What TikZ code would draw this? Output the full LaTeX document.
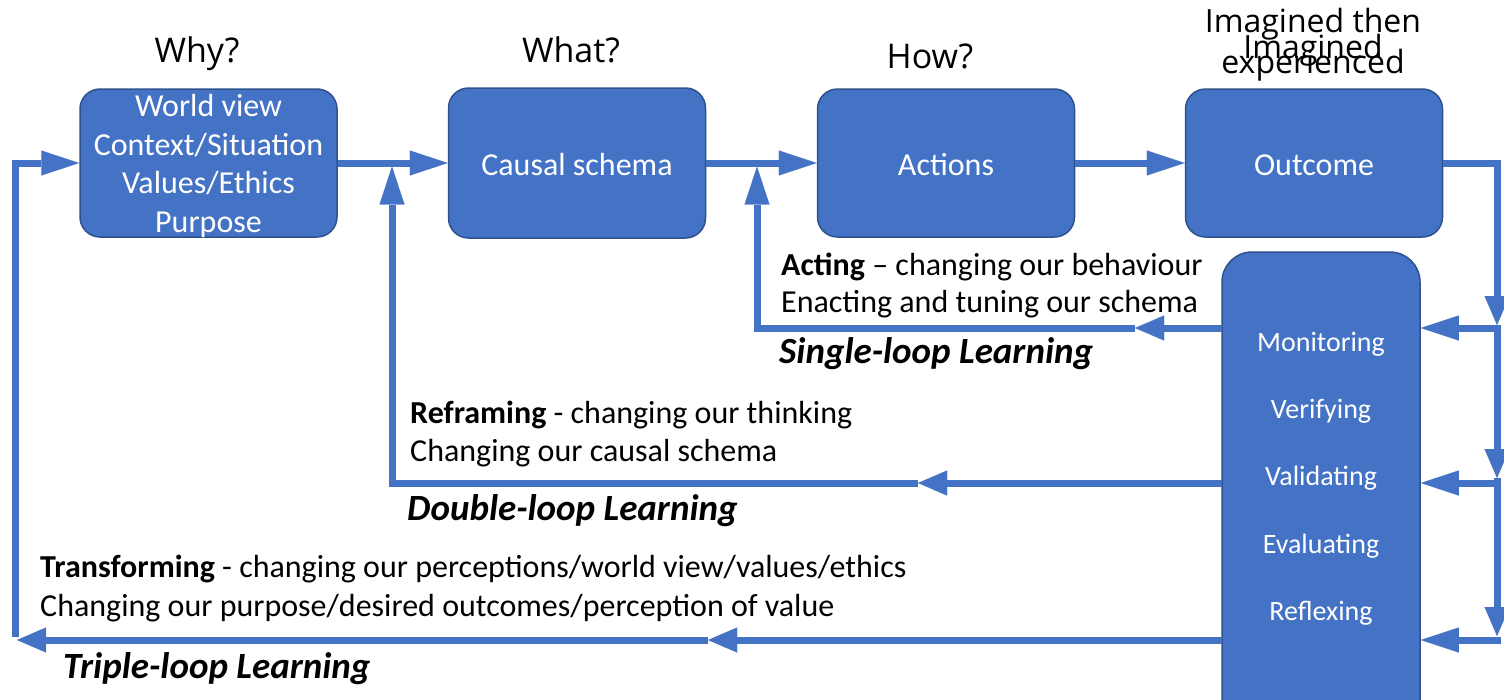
\documentclass[tikz,border=0pt]{standalone}
\usepackage{fontspec}
\setmainfont{Carlito}
\newfontfamily\labfont{Open Sans}
\usetikzlibrary{arrows.meta}
\definecolor{boxblue}{HTML}{4472C4}
\definecolor{boxedge}{HTML}{2F528F}
\newcommand{\bodyfs}{\fontsize{32pt}{38.5pt}\selectfont}
\newcommand{\loopfs}{\fontsize{37pt}{44pt}\selectfont}
\newcommand{\monfs}{\fontsize{28pt}{33pt}\selectfont}
\newcommand{\topfs}{\fontsize{34pt}{40pt}\selectfont\labfont}
\newcommand{\imgfs}{\fontsize{32pt}{38pt}\selectfont\labfont}
\tikzset{
  box/.style={draw=boxedge, fill=boxblue, rounded corners=20pt, line width=1.5pt,
    inner sep=0pt, minimum width=257pt, minimum height=148pt},
  boxtxt/.style={text=white, font=\bodyfs, align=center, inner sep=0pt},
  conn/.style={draw=boxblue, line width=7pt, line join=miter},
  tipL/.style={-{Triangle[length=38pt,width=25pt,line width=0.01pt]}},
  tipS/.style={-{Triangle[length=29pt,width=25pt,line width=0.01pt]}},
  txt/.style={font=\bodyfs, anchor=west, inner sep=0pt},
  loop/.style={font=\loopfs\bfseries\itshape, anchor=west, inner sep=0pt},
  mon/.style={font=\monfs, text=white, inner sep=0pt},
  top/.style={font=\topfs, anchor=base, inner sep=0pt},
  img/.style={font=\imgfs, anchor=base, inner sep=0pt}
}
\begin{document}
\begin{tikzpicture}[x=1pt,y=-1pt]
\useasboundingbox (0,0) rectangle (1504,699);
\clip (0,0) rectangle (1504,699);

% boxes
\node[box] (wv)  at (208.5,163) {};
\node[box, minimum height=150pt] (cs)  at (577,163) {};
\node[box] (act) at (946,163) {};
\node[box] (out) at (1314,163) {};
\node[boxtxt] (wvt)  at (208.5,166) {World view\\Context/Situation\\Values/Ethics\\Purpose};
\node[boxtxt] (cst)  at (577,165) {Causal schema};
\node[boxtxt] (actt) at (946,165) {Actions};
\node[boxtxt] (outt) at (1314,165) {Outcome};
\node[draw=boxedge, fill=boxblue, rounded corners=30pt, line width=1.5pt,
      minimum width=198pt, minimum height=508pt, inner sep=0pt] (mon) at (1321,506) {};

% top labels
\node[top] (why)  at (197,62) {Why?};
\node[top] (what) at (571,62) {What?};
\node[top] (how)  at (930,68) {How?};
\node[img] (imt)  at (1313,32) {Imagined then};
\node[img] (img)  at (1313,58) {Imagined};
\node[img] (exp)  at (1313,73) {experienced};

% monitoring labels
\node[mon] (m1) at (1321,344) {Monitoring};
\node[mon] (m2) at (1321,411) {Verifying};
\node[mon] (m3) at (1321,478) {Validating};
\node[mon] (m4) at (1321,546) {Evaluating};
\node[mon] (m5) at (1321,613) {Reflexing};

% coordinates
\coordinate (j2) at (392,166.5);
\coordinate (j3) at (757,166.5);
\coordinate (r0) at (1497,163);
\coordinate (r1) at (1497,325);
\coordinate (r2) at (1497,478);
\coordinate (r3) at (1497,636);
\coordinate (h1) at (1500.5,328);
\coordinate (h2) at (1500.5,483);
\coordinate (h3) at (1500.5,640);
\coordinate (s0) at (1222,328);
\coordinate (s1) at (1135,328);
\coordinate (s2) at (757,328);
\coordinate (d0) at (1222,483);
\coordinate (d1) at (918,483);
\coordinate (d2) at (392,483);
\coordinate (t0) at (1222,640);
\coordinate (t1) at (708,640);
\coordinate (t2) at (17,640);
\coordinate (t3) at (15,636.5);
\coordinate (t4) at (15,163);

% main flow
\draw[conn,tipL] (wv.east) -- (cs.west);
\draw[conn,tipL] (cs.east) -- (act.west);
\draw[conn,tipL] (act.east) -- (out.west);

% right side
\draw[conn,tipS] (out.east) -- (r0) -- (r1);
\draw[conn,tipS] (r1) -- (r2);
\draw[conn,tipS] (r2) -- (r3);
\draw[conn,tipL] (h1) -- (mon.east |- h1);
\draw[conn,tipL] (h2) -- (mon.east |- h2);
\draw[conn,tipL] (h3) -- (mon.east |- h3);

% single loop
\draw[conn,tipS] (s0) -- (s1);
\draw[conn,tipL] (s1) -- (s2) -- (j3);
% double loop
\draw[conn,tipS] (d0) -- (d1);
\draw[conn,tipL] (d1) -- (d2) -- (j2);
% triple loop
\draw[conn,tipS] (t0) -- (t1);
\draw[conn,tipS] (t1) -- (t2);
\draw[conn,tipL] (t3) -- (t4) -- (wv.west);

% texts
\node[txt] (a1) at (781,267) {\textbf{Acting} -- changing our behaviour};
\node[txt] (a2) at (781,304) {Enacting and tuning our schema};
\node[loop] (sl) at (779,354) {Single-loop Learning};
\node[txt] (b1) at (410,415) {\textbf{Reframing} - changing our thinking};
\node[txt] (b2) at (410,453) {Changing our causal schema};
\node[loop] (dl) at (407,511) {Double-loop Learning};
\node[txt] (c1) at (40,569) {\textbf{Transforming} - changing our perceptions/world view/values/ethics};
\node[txt] (c2) at (40,608) {Changing our purpose/desired outcomes/perception of value};
\node[loop] (tl) at (63,669) {Triple-loop Learning};
\end{tikzpicture}
\end{document}
